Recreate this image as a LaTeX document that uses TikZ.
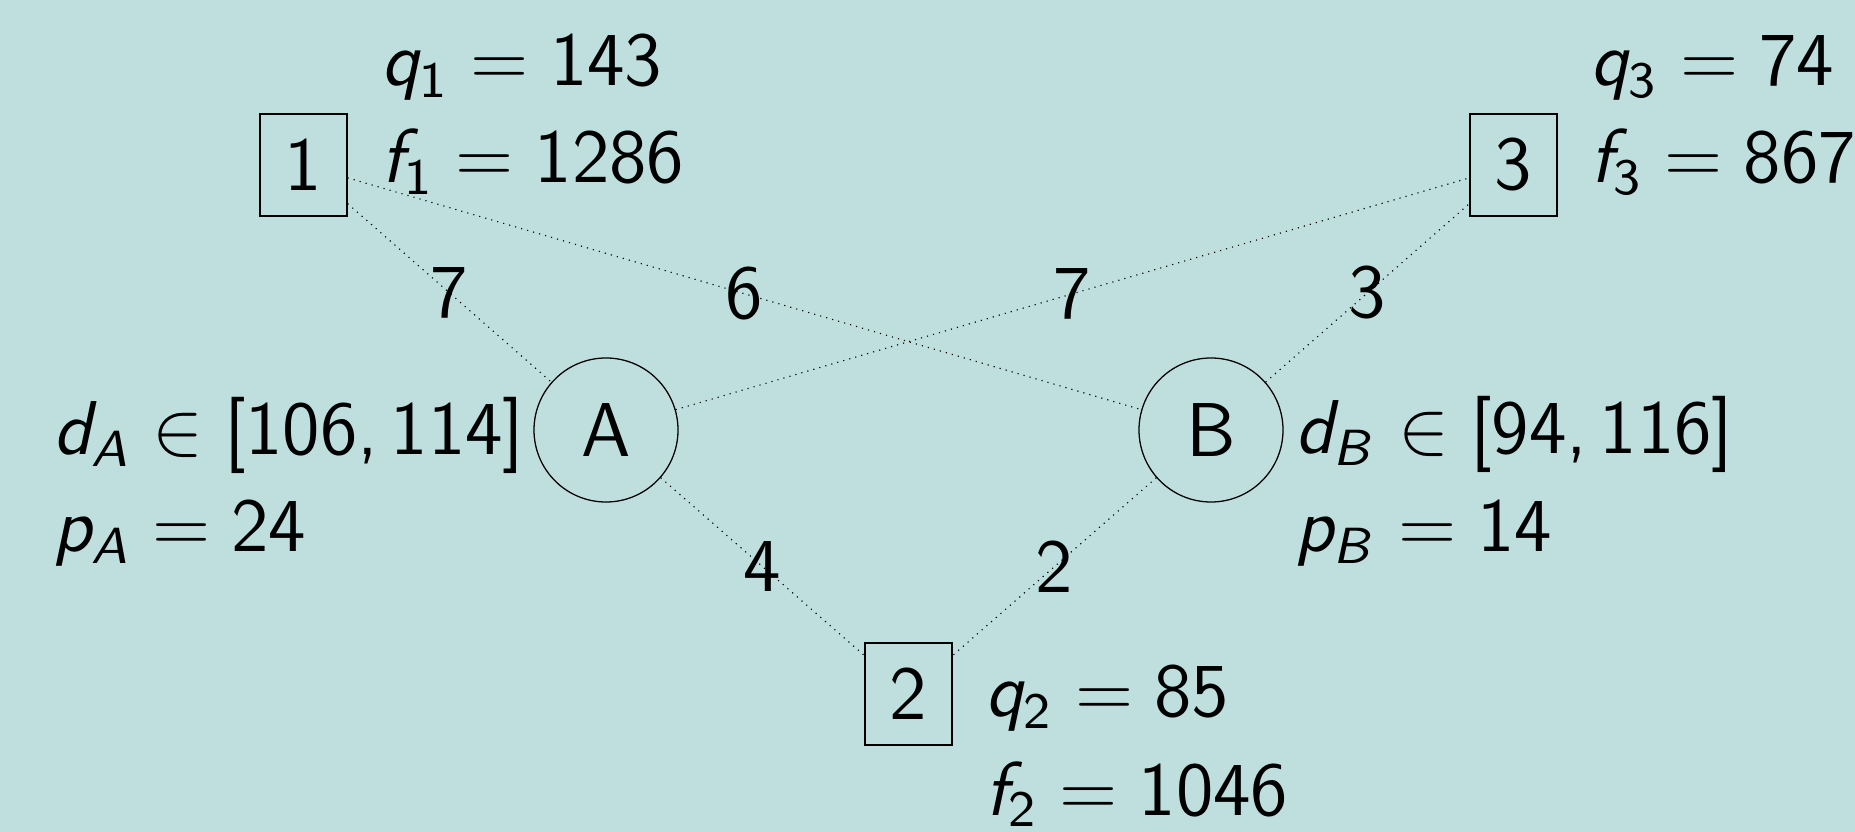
\documentclass[tikz,border=0pt]{standalone}
% sans-serif math: letters in slanted sans, digits and operators in upright sans
\DeclareSymbolFont{operators}{OT1}{cmss}{m}{n}
\DeclareSymbolFont{letters}{OT1}{cmss}{m}{it}
\AtBeginDocument{\mathcode`\,="602C \fontsize{12}{14}\selectfont\sffamily}
\definecolor{bgteal}{RGB}{191,223,222}
\tikzset{
  depot/.style={draw, line width=0.2pt, minimum width=13.68pt, minimum height=16.04pt, inner sep=0pt},
  cust/.style={draw, circle, line width=0.2pt, minimum size=22.65pt, inner sep=0pt},
  link/.style={line width=0.18pt, dash pattern=on 0.18pt off 0.8pt},
  info/.style={anchor=base west, inner sep=0pt},
  cost/.style={midway, inner sep=0pt}
}
\begin{document}
\begin{tikzpicture}[x=0.15727pt, y=-0.15727pt]
  \fill[bgteal] (0,0) rectangle (1855,832);
  \useasboundingbox (0,0) rectangle (1855,832);

  % facilities and customers
  \node[depot] (n1) at (303.5,165) {1};
  \node[depot] (n3) at (1513.5,165) {3};
  \node[depot] (n2) at (908.5,694) {2};
  \node[cust] (A) at (606,430) {A};
  \node[cust] (B) at (1211,430) {B};

  % transport costs
  \draw[link] (n1) -- node[cost] (c1A) {7} (A);
  \draw[link] (n1) -- node[cost] (c1B) {6} (B);
  \draw[link] (A) -- node[cost] (cA3) {7} (n3);
  \draw[link] (B) -- node[cost] (cB3) {3} (n3);
  \draw[link] (A) -- node[cost] (cA2) {4} (n2);
  \draw[link] (B) -- node[cost] (cB2) {2} (n2);

  % facility data
  \node[info] (q1) at (380,86) {$q_1 = 143$};
  \node[info] (f1) at (380,183) {$f_1 = 1286$};
  \node[info] (q3) at (1589,86) {$q_3 = 74$};
  \node[info] (f3) at (1589,183) {$f_3 = 867$};
  \node[info] (q2) at (984,717) {$q_2 = 85$};
  \node[info] (f2) at (984,815) {$f_2 = 1046$};

  % customer data
  \node[info] (dA) at (52,455) {$d_A \in [106, 114]$};
  \node[info] (pA) at (52,552) {$p_A = 24$};
  \node[info] (dB) at (1294,454) {$d_B \in [94, 116]$};
  \node[info] (pB) at (1294,552) {$p_B = 14$};
\end{tikzpicture}
\end{document}
